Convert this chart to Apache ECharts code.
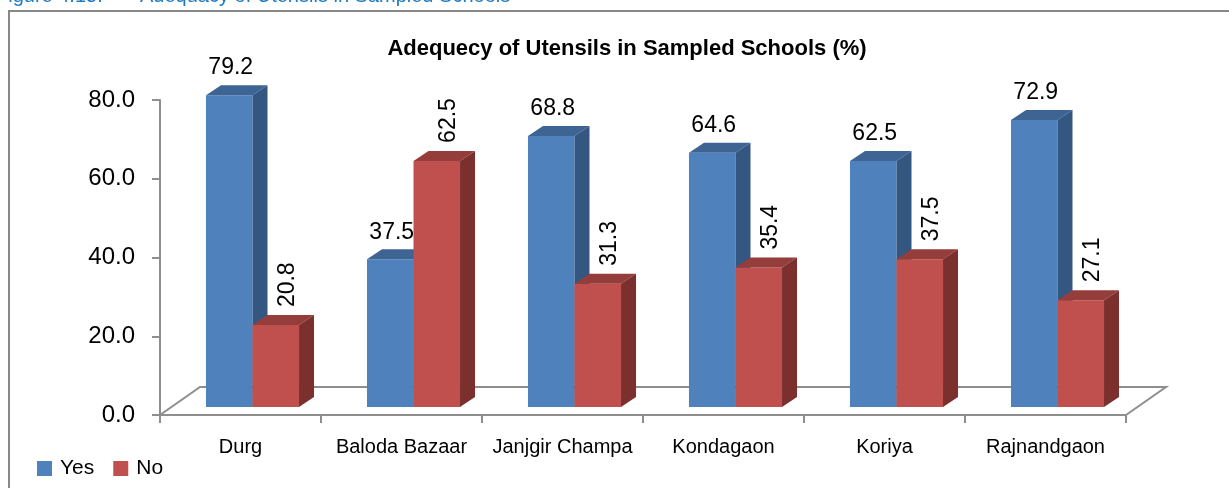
<!DOCTYPE html>
<html>
<head>
<meta charset="utf-8">
<script src="https://cdn.jsdelivr.net/npm/echarts@6/dist/echarts.min.js"></script>
<style>
  html, body { margin: 0; padding: 0; background: #fff; }
  #chart { width: 1229px; height: 488px; }
</style>
</head>
<body>
<div id="chart"></div>
<script>
var categories = ['Durg', 'Baloda Bazaar', 'Janjgir Champa', 'Kondagaon', 'Koriya', 'Rajnandgaon'];
var yesValues = [79.2, 37.5, 68.8, 64.6, 62.5, 72.9];
var noValues = [20.8, 62.5, 31.3, 35.4, 37.5, 27.1];
var yMin = 0, yMax = 80, yStep = 20;

var FONT = 'Liberation Sans';
// bars stand a bit behind the front edge of the floor
var PLANE_DX = 12, PLANE_DY = -8;
var DEPTH_DX = 15, DEPTH_DY = -10;
var FLOOR_DX = 40, FLOOR_DY = -28;
var BAR_RATIO = 0.289;
var AXIS_GRAY = '#8E8E8E';

var palette = [
  { front: '#4F81BD', top: '#3E6494', side: '#345781' },
  { front: '#C0504D', top: '#953D3A', side: '#7B302E' }
];

function barRenderer(which) {
  return function (params, api) {
    var idx = api.value(0), val = api.value(1);
    var base = api.coord([idx, 0]);
    var topPt = api.coord([idx, val]);
    var w = api.size([1, 0])[0] * BAR_RATIO;
    var cx = base[0] + PLANE_DX;
    var xl = which === 0 ? cx - w : cx;
    var xr = xl + w;
    var yb = base[1] + PLANE_DY;
    var yt = topPt[1] + PLANE_DY;
    var c = palette[which];
    var kids = [
      { type: 'rect', shape: { x: xl, y: yt, width: w, height: yb - yt }, style: { fill: c.front } },
      { type: 'polygon', shape: { points: [[xl, yt], [xl + DEPTH_DX, yt + DEPTH_DY], [xr + DEPTH_DX, yt + DEPTH_DY], [xr, yt]] }, style: { fill: c.top } },
      { type: 'polygon', shape: { points: [[xr, yt], [xr + DEPTH_DX, yt + DEPTH_DY], [xr + DEPTH_DX, yb + DEPTH_DY], [xr, yb]] }, style: { fill: c.side } }
    ];
    var txt = val.toFixed(1);
    if (which === 0) {
      kids.push({ type: 'text', x: (xl + xr) / 2 + 1.5, y: yt - 27,
        style: { text: txt, fill: '#000', font: '23px ' + FONT, align: 'center', verticalAlign: 'middle' } });
    } else {
      kids.push({ type: 'text', x: (xl + xr) / 2 + 12, y: yt + DEPTH_DY - 8, rotation: Math.PI / 2,
        style: { text: txt, fill: '#000', font: '23px ' + FONT, align: 'left', verticalAlign: 'middle' } });
    }
    return { type: 'group', children: kids };
  };
}

function floorRenderer(params, api) {
  var cs = params.coordSys;
  var yb = api.coord([0, 0])[1];
  var x0 = cs.x, x1 = cs.x + cs.width;
  return {
    type: 'polyline',
    shape: { points: [[x0, yb], [x0 + FLOOR_DX, yb + FLOOR_DY], [x1 + FLOOR_DX, yb + FLOOR_DY], [x1, yb]] },
    style: { stroke: AXIS_GRAY, lineWidth: 2, fill: null }
  };
}

var chart = echarts.init(document.getElementById('chart'));
chart.setOption({
  animation: false,
  backgroundColor: '#fff',
  title: {
    text: 'Adequecy of Utensils in Sampled Schools (%)',
    left: 622, top: 33, textAlign: 'center',
    textStyle: { fontFamily: FONT, fontSize: 22, fontWeight: 'bold', color: '#000' }
  },
  graphic: [
    { type: 'rect', shape: { x: 9, y: 11, width: 1400, height: 700 }, style: { fill: null, stroke: '#888', lineWidth: 2 }, z: 0 },
    { type: 'text', x: -4, y: 6, style: { text: 'Figure 4.15:', fill: '#1F7BC1', font: '20px ' + FONT, verticalAlign: 'bottom' } },
    { type: 'text', x: 140, y: 6, style: { text: 'Adequacy of Utensils in Sampled Schools', fill: '#1F7BC1', font: '20px ' + FONT, verticalAlign: 'bottom' } }
  ],
  legend: {
    data: ['Yes', 'No'],
    left: 32, top: 453,
    icon: 'rect', itemWidth: 15, itemHeight: 15, itemGap: 19,
    textStyle: { fontFamily: FONT, fontSize: 21, color: '#000', padding: [0, 0, 0, 3] }
  },
  grid: { left: 160, right: 103, top: 100, bottom: 73 },
  xAxis: {
    type: 'category',
    data: categories,
    axisLine: { lineStyle: { color: AXIS_GRAY, width: 2 } },
    axisTick: { show: true, interval: 0, length: 8, lineStyle: { color: AXIS_GRAY, width: 2 } },
    axisLabel: { interval: 0, margin: 22, color: '#000', fontFamily: FONT, fontSize: 20 },
    splitLine: { show: false }
  },
  yAxis: {
    type: 'value',
    min: yMin, max: yMax, interval: yStep,
    axisLine: { show: true, lineStyle: { color: AXIS_GRAY, width: 2 } },
    axisTick: { show: true, length: 8, lineStyle: { color: AXIS_GRAY, width: 2 } },
    axisLabel: { margin: 25, color: '#000', fontFamily: FONT, fontSize: 24, formatter: function (v) { return v.toFixed(1); } },
    splitLine: { show: false }
  },
  series: [
    { type: 'custom', name: 'floor', renderItem: floorRenderer, data: [[0, 0]], z: 1, silent: true },
    { type: 'custom', name: 'Yes', renderItem: barRenderer(0), itemStyle: { color: palette[0].front },
      encode: { x: 0, y: 1 }, data: yesValues.map(function (v, i) { return [i, v]; }), z: 2 },
    { type: 'custom', name: 'No', renderItem: barRenderer(1), itemStyle: { color: palette[1].front },
      encode: { x: 0, y: 1 }, data: noValues.map(function (v, i) { return [i, v]; }), z: 3 }
  ]
});
</script>
</body>
</html>
